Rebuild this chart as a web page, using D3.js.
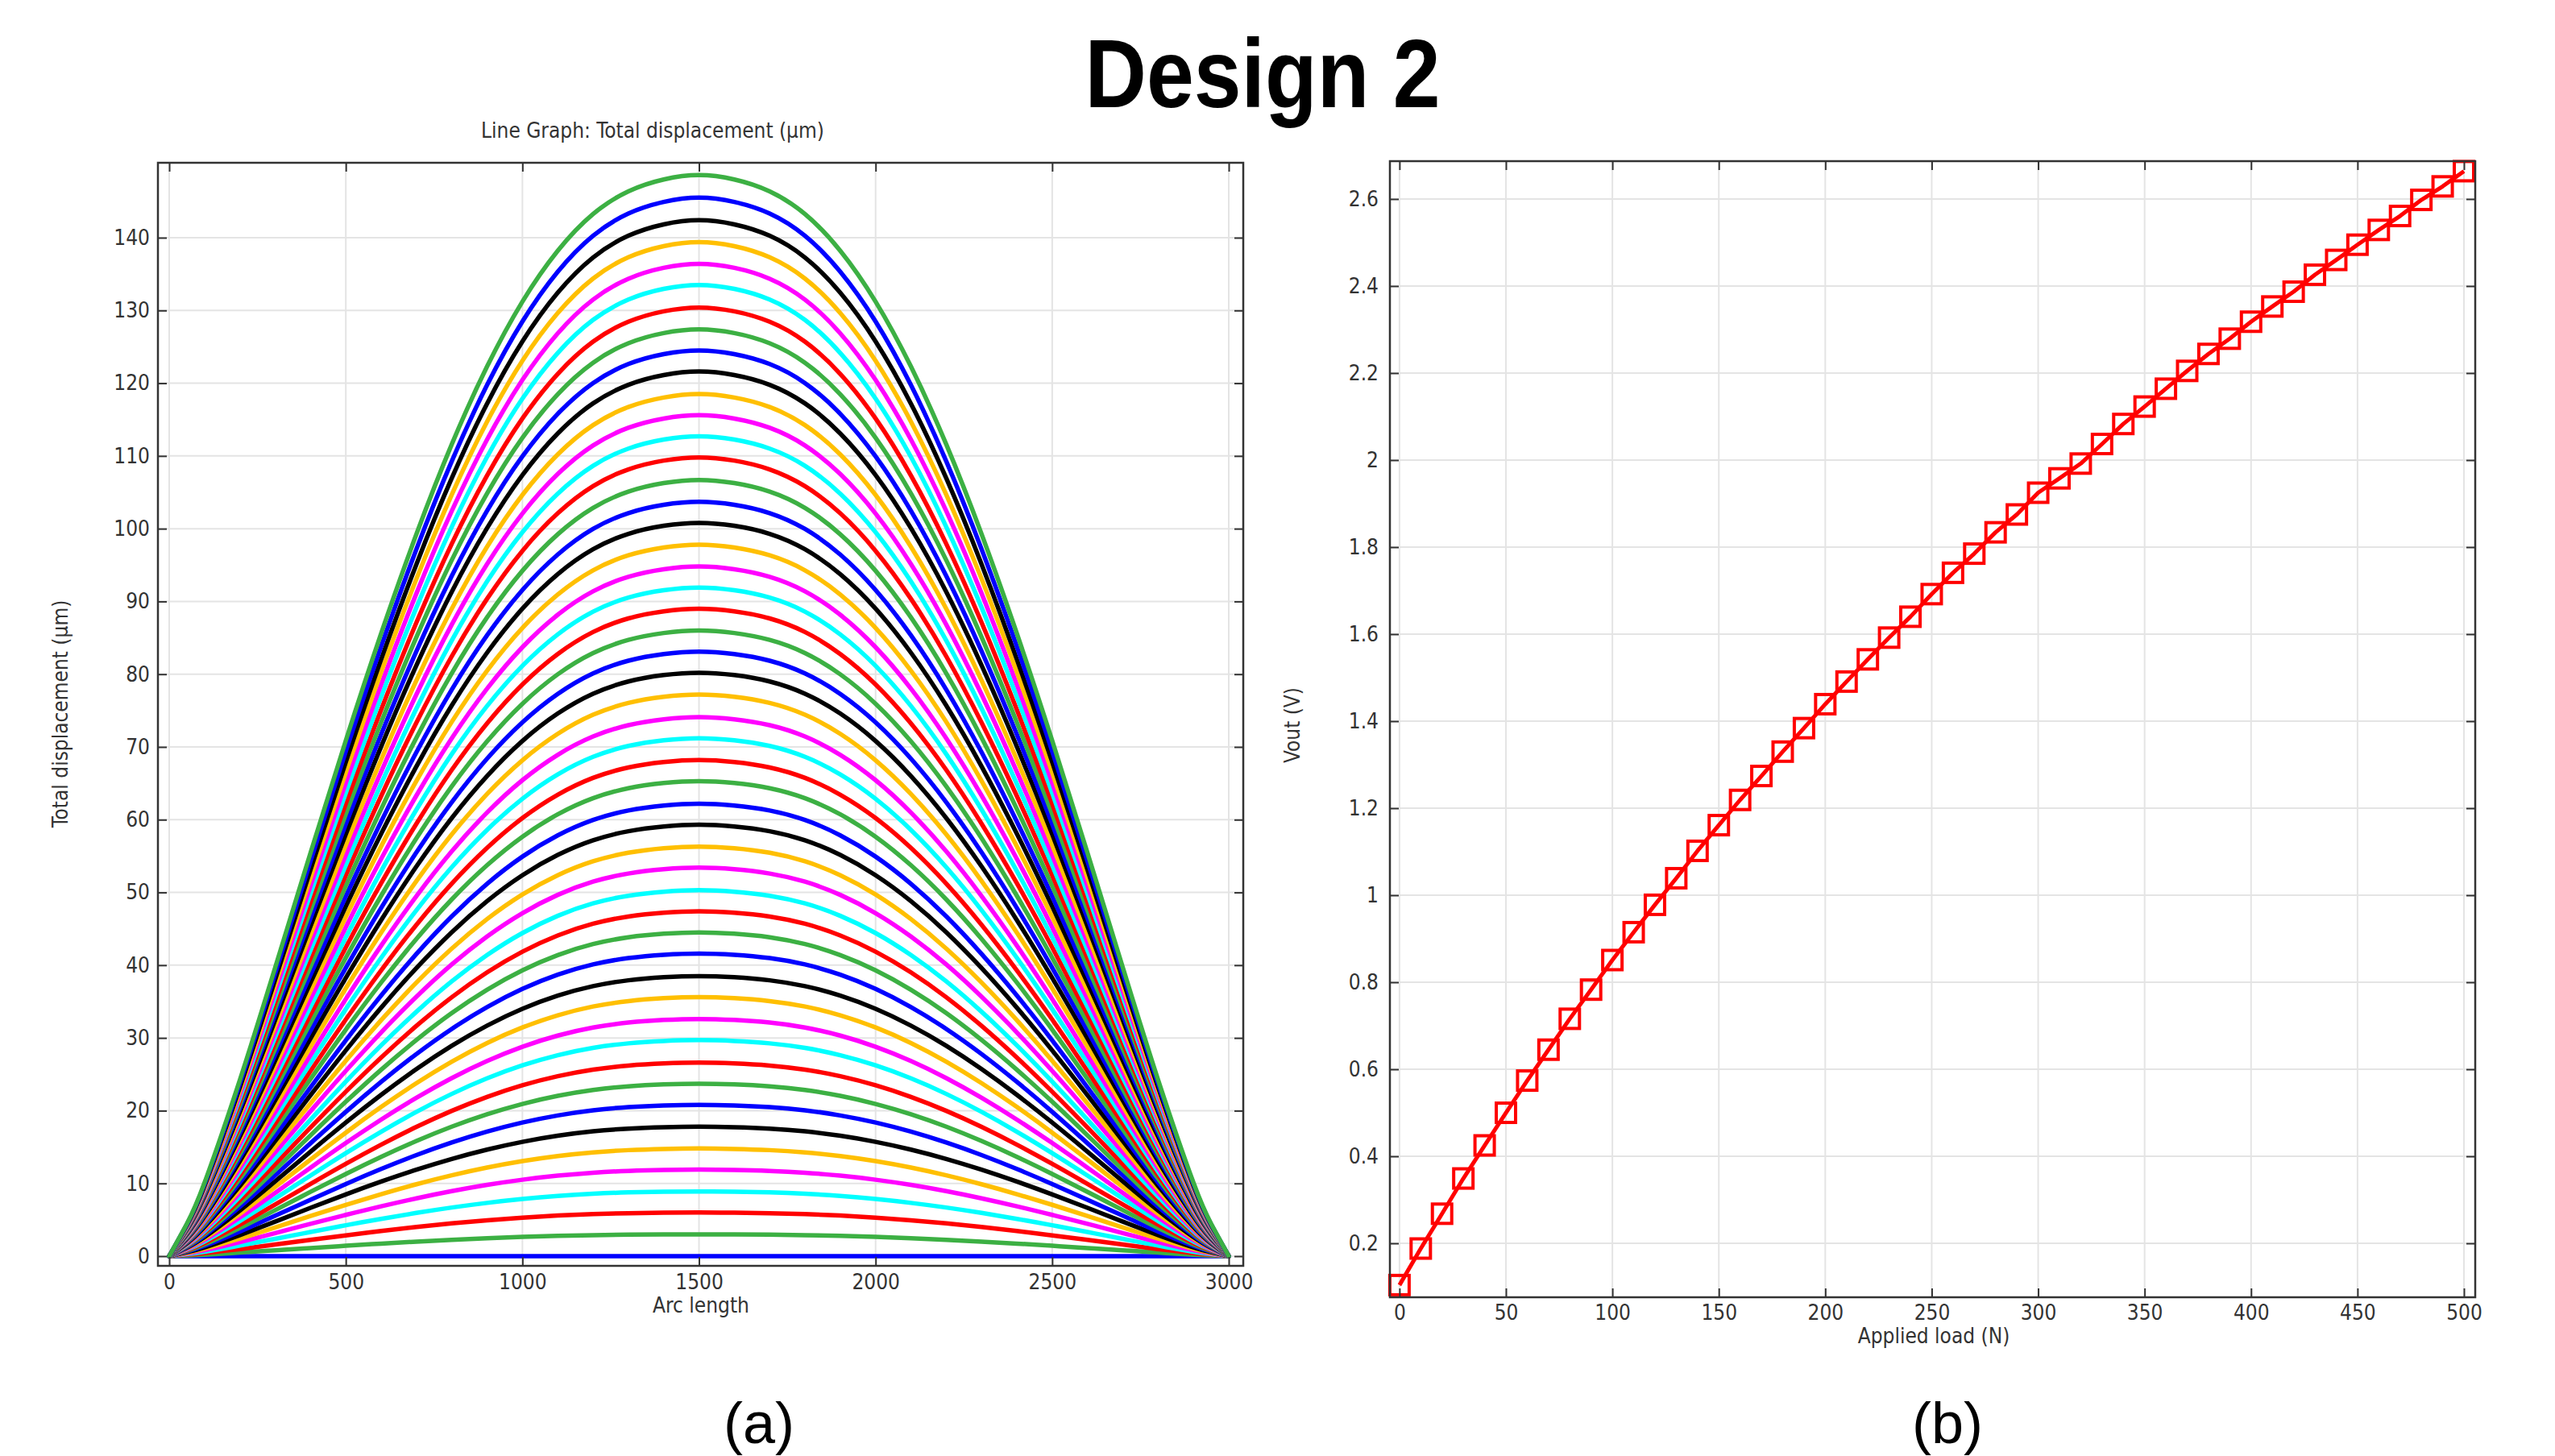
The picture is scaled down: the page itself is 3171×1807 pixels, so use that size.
<!DOCTYPE html>
<html><head><meta charset="utf-8">
<script src="https://cdn.jsdelivr.net/npm/d3@7"></script>
<style>
body{margin:0;background:#fff}
.lbl{font-family:'DejaVu Sans Condensed','DejaVu Sans',sans-serif;font-stretch:condensed;fill:#333}
</style>
</head><body>
<svg id="c" width="3171" height="1807" xmlns="http://www.w3.org/2000/svg"></svg>
<script>
// ---------- Data ----------
// Panel (a): peak total displacement (µm) at mid-span for each load step, bottom to top
const peakDisp = [0, 3.0, 6.0, 8.9, 11.9, 14.8, 17.8, 20.8, 23.7, 26.6,
  29.7, 32.6, 35.6, 38.5, 41.6, 44.5, 47.4, 50.3, 53.4, 56.3,
  59.3, 62.2, 65.3, 68.2, 71.2, 74.1, 77.2, 80.2, 83.1, 86.0,
  89.0, 91.9, 94.8, 97.8, 100.8, 103.7, 106.7, 109.8, 112.7, 115.6,
  118.5, 121.6, 124.5, 127.4, 130.4, 133.5, 136.4, 139.4, 142.4, 145.5, 148.6];
// deflected shape (fraction of peak) along the arc length, first half of the span
const arcPos    = [0, 50, 100, 200, 300, 400, 500, 600, 700, 800, 900, 1000, 1100, 1200, 1300, 1400, 1500];
const shapeFrac = [0, 0.030, 0.068, 0.163, 0.267, 0.373, 0.477, 0.576, 0.668, 0.751, 0.823, 0.883, 0.930, 0.964, 0.985, 0.996, 1];
const spanLength = 3000;
const colorCycle = ["#0000ff", "#3cb043", "#ff0000", "#00ffff", "#ff00ff", "#ffbf00", "#000000"];

// Panel (b): Vout vs applied load
const loadN = [0,10,20,30,40,50,60,70,80,90,100,110,120,130,140,150,160,170,180,190,200,
  210,220,230,240,250,260,270,280,290,300,310,320,330,340,350,360,370,380,390,400,
  410,420,430,440,450,460,470,480,490,500];
const vout = [0.104,0.188,0.268,0.349,0.425,0.500,0.574,0.645,0.716,0.783,0.851,
  0.915,0.978,1.039,1.102,1.161,1.219,1.274,1.330,1.384,1.439,
  1.491,1.542,1.592,1.640,1.692,1.741,1.785,1.834,1.875,1.925,
  1.958,1.992,2.037,2.083,2.123,2.164,2.205,2.244,2.279,2.318,
  2.353,2.387,2.426,2.460,2.495,2.529,2.561,2.598,2.629,2.664];

// Tick labels
const xTicksL = [0, 500, 1000, 1500, 2000, 2500, 3000];
const yTicksL = [0, 10, 20, 30, 40, 50, 60, 70, 80, 90, 100, 110, 120, 130, 140];
const xTicksR = [0, 50, 100, 150, 200, 250, 300, 350, 400, 450, 500];
const yTicksR = [0.2, 0.4, 0.6, 0.8, 1.0, 1.2, 1.4, 1.6, 1.8, 2.0, 2.2, 2.4, 2.6];

// Texts
const mainTitle = "Design 2";
const titleL = "Line Graph: Total displacement (µm)";
const xLabelL = "Arc length";
const yLabelL = "Total displacement (µm)";
const xLabelR = "Applied load (N)";
const yLabelR = "Vout (V)";
const captions = ["(a)", "(b)"];

// ---------- Drawing ----------
const svg = d3.select("#c");
svg.append("rect").attr("width", 3171).attr("height", 1807).attr("fill", "#fff");

function panel(opts) {
  const {x, y, xTicks, yTicks, fmtY, padX, padY} = opts;
  const [x0, x1] = x.range(), [y0, y1] = y.range();
  const g = svg.append("g");
  // grid
  g.append("g").selectAll("line").data(xTicks).join("line")
    .attr("x1", d => x(d)).attr("x2", d => x(d)).attr("y1", y0).attr("y2", y1)
    .attr("stroke", "#e4e4e4").attr("stroke-width", 2);
  g.append("g").selectAll("line").data(yTicks).join("line")
    .attr("y1", d => y(d)).attr("y2", d => y(d)).attr("x1", x0).attr("x2", x1)
    .attr("stroke", "#e4e4e4").attr("stroke-width", 2);
  const plot = g.append("g");
  // axes
  const ax = (a, tr) => {
    const s = g.append("g").attr("transform", tr).call(a);
    s.select(".domain").remove();
    s.selectAll(".tick line").attr("stroke", "#333").attr("stroke-width", 2);
    s.selectAll("text").attr("class", "lbl").attr("font-size", 26).attr("fill", "#333");
    return s;
  };
  ax(d3.axisBottom(x).tickValues(xTicks).tickSize(-11).tickPadding(padX).tickFormat(d3.format("d")), `translate(0,${y0})`);
  ax(d3.axisTop(x).tickValues(xTicks).tickSize(-11).tickFormat(""), `translate(0,${y1})`);
  ax(d3.axisLeft(y).tickValues(yTicks).tickSize(-11).tickPadding(padY).tickFormat(fmtY), `translate(${x0},0)`);
  ax(d3.axisRight(y).tickValues(yTicks).tickSize(-11).tickFormat(""), `translate(${x1},0)`);
  // frame
  g.append("rect").attr("x", x0).attr("y", y1).attr("width", x1 - x0).attr("height", y0 - y1)
    .attr("fill", "none").attr("stroke", "#333").attr("stroke-width", 2.5);
  return plot;
}

// Panel (a)
const xL = d3.scaleLinear().domain([-32, 3041]).range([196, 1543]);
const yL = d3.scaleLinear().domain([-1.33, 150.3]).range([1571, 202]);
const plotL = panel({x: xL, y: yL, xTicks: xTicksL, yTicks: yTicksL, fmtY: d3.format("d"), padX: 11, padY: 10});
const lineL = d3.line().x(d => xL(d[0])).y(d => yL(d[1])).curve(d3.curveNatural);
peakDisp.forEach((pk, i) => {
  const left = arcPos.map((s, k) => [s, pk * shapeFrac[k]]);
  const right = arcPos.map((s, k) => [spanLength - s, pk * shapeFrac[k]]).slice(0, -1).reverse();
  plotL.append("path").datum(left.concat(right))
    .attr("d", lineL).attr("fill", "none")
    .attr("stroke", colorCycle[i % colorCycle.length]).attr("stroke-width", 5.5)
    .attr("stroke-linecap", "round").attr("stroke-linejoin", "round");
});

// Panel (b)
const xR = d3.scaleLinear().domain([-4.5, 505.3]).range([1725, 3072]);
const yR = d3.scaleLinear().domain([0.076, 2.687]).range([1610, 200]);
const plotR = panel({x: xR, y: yR, xTicks: xTicksR, yTicks: yTicksR, fmtY: d => String(+d.toFixed(1)), padX: 10, padY: 14});
const ptsR = loadN.map((v, i) => [v, vout[i]]);
plotR.append("path").datum(ptsR)
  .attr("d", d3.line().x(d => xR(d[0])).y(d => yR(d[1])))
  .attr("fill", "none").attr("stroke", "#ff0000").attr("stroke-width", 5).attr("stroke-linejoin", "round");
const msz = 24;
plotR.append("g").selectAll("rect").data(ptsR).join("rect")
  .attr("x", d => xR(d[0]) - msz / 2).attr("y", d => yR(d[1]) - msz / 2)
  .attr("width", msz).attr("height", msz)
  .attr("fill", "none").attr("stroke", "#ff0000").attr("stroke-width", 4);

// Texts
svg.append("text").text(mainTitle).attr("x", 1567).attr("y", 133).attr("text-anchor", "middle")
  .attr("font-family", "'Liberation Sans', Arial, sans-serif").attr("font-weight", "bold")
  .attr("font-size", 121).attr("fill", "#000")
  .attr("textLength", 441).attr("lengthAdjust", "spacingAndGlyphs");
svg.append("text").attr("class", "lbl").text(titleL).attr("x", 810).attr("y", 171)
  .attr("text-anchor", "middle").attr("font-size", 26);
svg.append("text").attr("class", "lbl").text(xLabelL).attr("x", 870).attr("y", 1629)
  .attr("text-anchor", "middle").attr("font-size", 26);
svg.append("text").attr("class", "lbl").text(yLabelL)
  .attr("transform", "translate(84,886) rotate(-90)").attr("text-anchor", "middle").attr("font-size", 26);
svg.append("text").attr("class", "lbl").text(xLabelR).attr("x", 2400).attr("y", 1667)
  .attr("text-anchor", "middle").attr("font-size", 26);
svg.append("text").attr("class", "lbl").text(yLabelR)
  .attr("transform", "translate(1613,900) rotate(-90)").attr("text-anchor", "middle").attr("font-size", 26);
[[942, captions[0]], [2417, captions[1]]].forEach(([cx, t]) => {
  svg.append("text").text(t).attr("x", cx).attr("y", 1791).attr("text-anchor", "middle")
    .attr("font-family", "'Liberation Sans', Arial, sans-serif").attr("font-size", 72).attr("fill", "#000");
});
</script>
</body></html>
